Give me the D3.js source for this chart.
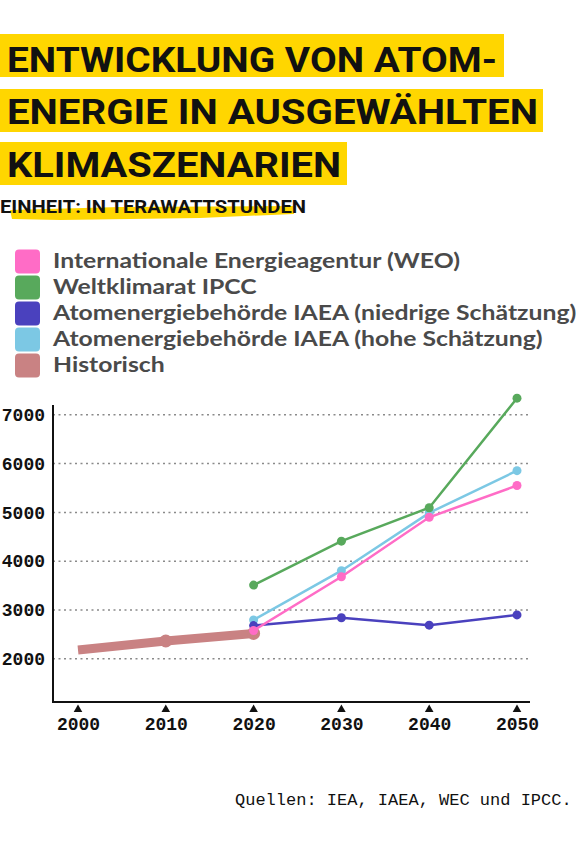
<!DOCTYPE html>
<html>
<head>
<meta charset="utf-8">
<script src="https://cdn.jsdelivr.net/npm/d3@7"></script>
<style>
  body { margin: 0; background: #fff; }
  #container { width: 576px; height: 864px; overflow: hidden; }
</style>
</head>
<body>
<div id="container"></div>
<script>
// data (TWh)
const years = [2020, 2030, 2040, 2050];
const histYears = [2000, 2010, 2020];
const histValues = [2180, 2365, 2520];
const weoValues = [2580, 3680, 4900, 5550];
const ipccValues = [3510, 4410, 5095, 7340];
const iaeaLowValues = [2680, 2840, 2690, 2900];
const iaeaHighValues = [2795, 3805, 4990, 5855];
const xTicks = [2000, 2010, 2020, 2030, 2040, 2050];
const yTicks = [2000, 3000, 4000, 5000, 6000, 7000];

const titleLines = ["ENTWICKLUNG VON ATOM-", "ENERGIE IN AUSGEWÄHLTEN", "KLIMASZENARIEN"];
const legendNames = [
  "Internationale Energieagentur (WEO)",
  "Weltklimarat IPCC",
  "Atomenergiebehörde IAEA (niedrige Schätzung)",
  "Atomenergiebehörde IAEA (hohe Schätzung)",
  "Historisch"
];
const colors = ["#ff6cc6", "#58a95c", "#4a41be", "#7cc8e4", "#c98283"];

const width = 576;
const height = 864;

const svg = d3.select("#container")
              .append("svg")
              .attr("width", width)
              .attr("height", height)
              .style("background", "#fff");

// title with yellow highlight boxes
const titleBoxTop = [34, 89, 142];
const titleBoxW = [504, 543, 347];
const titleTextW = [490, 531, 334];
const titleBase = [71.5, 124, 177];
titleLines.forEach((t, i) => {
  svg.append("rect")
     .attr("x", 0).attr("y", titleBoxTop[i])
     .attr("width", titleBoxW[i]).attr("height", 43)
     .attr("fill", "#ffd600");
  svg.append("text")
     .text(t)
     .attr("x", 7).attr("y", titleBase[i])
     .attr("textLength", titleTextW[i])
     .attr("lengthAdjust", "spacingAndGlyphs")
     .style("font-family", "Roboto, 'Noto Sans', sans-serif")
     .style("font-weight", 700)
     .style("font-size", "35px")
     .style("fill", "#111");
});

// subtitle with brush stroke
svg.append("path")
   .attr("d", "M10,210 L120,207 L293,206 L294,214 L200,218 L60,220 L12,219 Z")
   .attr("fill", "#ffd600");
svg.append("text")
   .text("EINHEIT: IN TERAWATTSTUNDEN")
   .attr("x", 0).attr("y", 213)
   .attr("textLength", 306)
   .attr("lengthAdjust", "spacingAndGlyphs")
   .style("font-family", "Roboto, 'Noto Sans', sans-serif")
   .style("font-weight", 700)
   .style("font-size", "19px")
   .style("fill", "#111");

// legend
const legend = svg.append("g");
const legendTexts = [];
legendNames.forEach((name, i) => {
  const y = 249.5 + i * 26;
  legend.append("rect")
        .attr("x", 15).attr("y", y)
        .attr("width", 25).attr("height", 24)
        .attr("rx", 4)
        .attr("fill", colors[i]);
  legendTexts.push(legend.append("text")
        .text(name)
        .attr("x", 53).attr("y", y + 18)
        .style("font-family", "Lato, 'Noto Sans', sans-serif")
        .style("font-weight", 700)
        .style("font-size", "21px")
        .style("fill", "#4a4a4a"));
});
// stretch the legend texts so the first one is as wide as in the reference
const legendScale = 407 / legendTexts[0].node().getComputedTextLength();
legendTexts.forEach((t) => {
  t.attr("textLength", t.node().getComputedTextLength() * legendScale)
   .attr("lengthAdjust", "spacingAndGlyphs");
});

// scales
const xScale = d3.scaleLinear().domain([2000, 2050]).range([78, 517]);
const yScale = d3.scaleLinear().domain([1115, 7200]).range([702, 405]);
const left = 53, right = 530;

// gridlines
svg.append("g")
   .selectAll("line")
   .data(yTicks)
   .enter()
   .append("line")
   .attr("x1", left).attr("x2", right)
   .attr("y1", (d) => yScale(d)).attr("y2", (d) => yScale(d))
   .attr("stroke", "#8a8a8a")
   .attr("stroke-width", 1.5)
   .attr("stroke-dasharray", "2,3.5");

// axes
const yAxis = d3.axisLeft(yScale).tickValues(yTicks).tickSize(0).tickPadding(8).tickFormat(d3.format("d"));
svg.append("g")
   .attr("transform", "translate(" + left + ",0)")
   .call(yAxis)
   .call((g) => g.select(".domain").remove())
   .selectAll("text")
   .style("font-family", "'Liberation Mono', 'Courier New', monospace")
   .style("font-weight", 700)
   .style("font-size", "18px")
   .style("fill", "#111");

const xAxis = d3.axisBottom(xScale).tickValues(xTicks).tickSize(0).tickPadding(15).tickFormat(d3.format("d"));
svg.append("g")
   .attr("transform", "translate(0," + 702 + ")")
   .call(xAxis)
   .call((g) => g.select(".domain").remove())
   .selectAll("text")
   .style("font-family", "'Liberation Mono', 'Courier New', monospace")
   .style("font-weight", 700)
   .style("font-size", "18px")
   .style("fill", "#111");

svg.append("path")
   .attr("d", "M" + left + "," + yScale(7200) + "V702H" + right)
   .attr("fill", "none")
   .attr("stroke", "#111")
   .attr("stroke-width", 2);

svg.append("g")
   .selectAll("path")
   .data(xTicks)
   .enter()
   .append("path")
   .attr("d", d3.symbol().type(d3.symbolTriangle).size(32))
   .attr("transform", (d) => "translate(" + xScale(d) + ",709.5)")
   .attr("fill", "#111");

// lines
const line = d3.line().x((d) => xScale(d[0])).y((d) => yScale(d[1]));

svg.append("path")
   .datum(histYears.map((y, i) => [y, histValues[i]]))
   .attr("d", line)
   .attr("fill", "none")
   .attr("stroke", colors[4])
   .attr("stroke-width", 9);
svg.append("g")
   .selectAll("circle")
   .data(histYears.map((y, i) => [y, histValues[i]]).slice(1))
   .enter()
   .append("circle")
   .attr("cx", (d) => xScale(d[0]))
   .attr("cy", (d) => yScale(d[1]))
   .attr("r", 6.5)
   .attr("fill", colors[4]);

const series = [
  { values: iaeaHighValues, color: colors[3] },
  { values: iaeaLowValues, color: colors[2] },
  { values: ipccValues, color: colors[1] },
  { values: weoValues, color: colors[0] }
];
series.forEach((s) => {
  const pts = years.map((y, i) => [y, s.values[i]]);
  svg.append("path")
     .datum(pts)
     .attr("d", line)
     .attr("fill", "none")
     .attr("stroke", s.color)
     .attr("stroke-width", 2.5);
  svg.append("g")
     .selectAll("circle")
     .data(pts)
     .enter()
     .append("circle")
     .attr("cx", (d) => xScale(d[0]))
     .attr("cy", (d) => yScale(d[1]))
     .attr("r", 4.5)
     .attr("fill", s.color);
});

// source
svg.append("text")
   .text("Quellen: IEA, IAEA, WEC und IPCC.")
   .attr("x", 235).attr("y", 805)
   .style("font-family", "'Liberation Mono', 'Courier New', monospace")
   .style("font-size", "17px")
   .style("fill", "#111");
</script>
</body>
</html>
